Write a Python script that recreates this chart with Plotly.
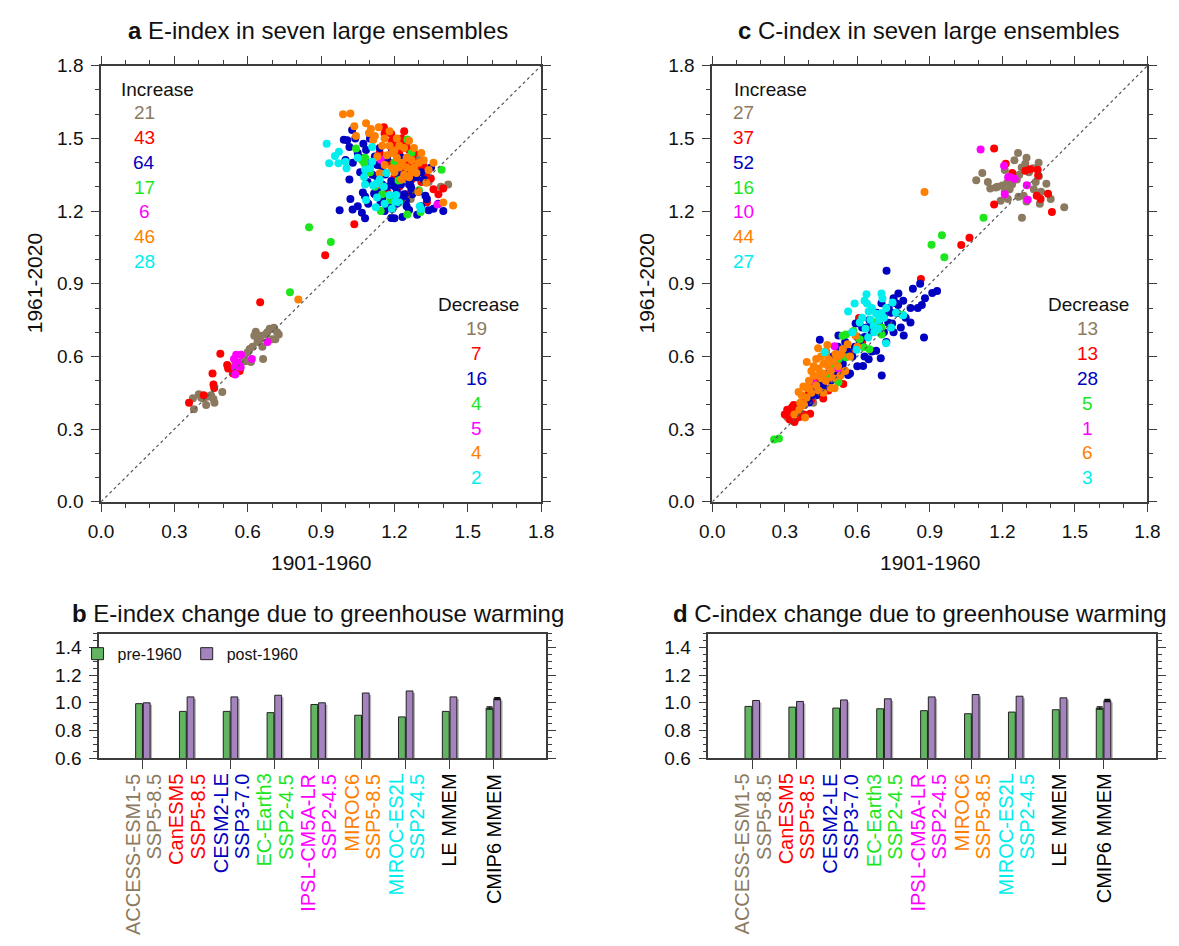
import plotly.graph_objects as go

FONT = "Arial, 'Liberation Sans', Helvetica, sans-serif"
AX = "#3c3c3c"
W, H = 1179, 946

# ---------------- categories ----------------
models = ["ACCESS-ESM1-5", "CanESM5", "CESM2-LE", "EC-Earth3", "IPSL-CM5A-LR", "MIROC6", "MIROC-ES2L"]
scenarios = ["SSP5-8.5", "SSP5-8.5", "SSP3-7.0", "SSP2-4.5", "SSP2-4.5", "SSP5-8.5", "SSP2-4.5"]
model_colors = ["#8C7A60", "#FF0000", "#0000C0", "#1EE61E", "#FF00FF", "#FF8000", "#00EEEE"]
mmem_labels = ["LE MMEM", "CMIP6 MMEM"]

E_increase = [21, 43, 64, 17, 6, 46, 28]
E_decrease = [19, 7, 16, 4, 5, 4, 2]
C_increase = [27, 37, 52, 16, 10, 44, 27]
C_decrease = [13, 13, 28, 5, 1, 6, 3]

# ---------------- panel a: E-index (x: 1901-1960, y: 1961-2020) ----------------
a_access_x = [0.38, 0.376, 0.40, 0.42, 0.43, 0.44, 0.46, 0.464, 0.45, 0.496, 0.41,
              0.55, 0.57, 0.59, 0.613, 0.608, 0.60, 0.58,
              0.627, 0.633, 0.663, 0.653, 0.673, 0.69, 0.707, 0.713, 0.727, 0.70, 0.64, 0.68, 0.66, 0.72, 0.65, 0.62,
              1.296, 1.29, 1.34, 1.39, 1.42, 1.267]
a_access_y = [0.382, 0.428, 0.444, 0.425, 0.40, 0.435, 0.424, 0.409, 0.44, 0.453, 0.43,
              0.57, 0.55, 0.58, 0.577, 0.631, 0.617, 0.60,
              0.686, 0.702, 0.59, 0.686, 0.691, 0.714, 0.718, 0.671, 0.691, 0.671, 0.66, 0.70, 0.64, 0.70, 0.67, 0.64,
              1.43, 1.40, 1.32, 1.30, 1.31, 1.25]

a_canesm_x = [0.36, 0.42, 0.46, 0.463, 0.456, 0.488, 0.516, 0.52, 0.54, 0.567, 0.651, 0.917,
              1.036, 1.157, 1.187, 1.20, 1.227, 1.26, 1.273, 1.313, 1.327, 1.349, 1.40, 1.171, 1.24, 1.333,
              1.24, 1.32, 1.21, 1.23, 1.25, 1.19, 1.22, 1.28, 1.29, 1.30, 1.26, 1.15, 1.18, 1.22, 1.27, 1.31,
              1.36, 1.38, 1.16, 1.24, 1.25, 1.14, 1.33, 1.20]
a_canesm_y = [0.409, 0.44, 0.484, 0.47, 0.53, 0.611, 0.565, 0.55, 0.53, 0.54, 0.824, 1.018,
              1.146, 1.546, 1.519, 1.498, 1.485, 1.452, 1.422, 1.384, 1.351, 1.335, 1.293, 1.279, 1.337, 1.236,
              1.364, 1.384, 1.47, 1.50, 1.48, 1.49, 1.44, 1.44, 1.40, 1.37, 1.40, 1.36, 1.40, 1.30, 1.33, 1.32,
              1.29, 1.27, 1.52, 1.53, 1.27, 1.44, 1.36, 1.34]

a_cesm_x = [1.027, 0.993, 1.007, 1.016, 1.073, 1.084, 1.0, 1.016, 0.976, 1.029,
            1.067, 1.071, 1.12, 1.093, 1.144, 1.127, 1.163, 1.187, 1.20, 1.177,
            1.191, 1.233, 1.187, 1.26, 1.273, 1.327, 1.333, 1.34, 1.293, 1.227,
            1.12, 1.149, 1.267, 1.247, 1.26, 1.30, 1.263, 1.117, 1.13, 1.17,
            1.21, 1.16, 1.05, 1.04, 1.06, 1.10, 1.14, 1.09, 1.11, 1.15,
            1.22, 1.25, 1.28, 1.24, 1.21, 1.20, 1.25, 1.31, 1.36, 1.38,
            1.29, 1.31, 1.35, 1.02, 1.05, 1.08, 1.13, 1.17, 1.19, 1.23,
            1.10, 1.06, 1.15, 1.19, 1.23, 1.27, 1.32, 1.40, 1.03, 1.08]
a_cesm_y = [1.535, 1.494, 1.492, 1.465, 1.478, 1.452, 1.411, 1.33, 1.203, 1.207,
            1.193, 1.277, 1.27, 1.23, 1.236, 1.344, 1.351, 1.324, 1.303, 1.216,
            1.209, 1.176, 1.171, 1.31, 1.27, 1.263, 1.25, 1.203, 1.185, 1.31,
            1.425, 1.384, 1.303, 1.243, 1.205, 1.28, 1.324, 1.273, 1.29, 1.30,
            1.28, 1.20, 1.44, 1.50, 1.42, 1.40, 1.46, 1.32, 1.35, 1.31,
            1.35, 1.36, 1.35, 1.27, 1.23, 1.17, 1.22, 1.22, 1.21, 1.23,
            1.34, 1.36, 1.38, 1.25, 1.22, 1.26, 1.39, 1.42, 1.45, 1.42,
            1.50, 1.36, 1.25, 1.26, 1.25, 1.29, 1.33, 1.20, 1.40, 1.17]

a_ecearth_x = [0.851, 0.773, 0.94, 1.253, 1.043, 1.08, 1.077, 1.393, 1.217, 1.30, 1.144,
               1.253, 1.307, 1.183, 1.067, 1.227, 1.15, 1.10, 1.20, 1.27, 1.12]
a_ecearth_y = [1.133, 0.865, 1.072, 1.496, 1.458, 1.42, 1.398, 1.371, 1.326, 1.286, 1.20,
               1.186, 1.196, 1.246, 1.411, 1.33, 1.27, 1.36, 1.40, 1.44, 1.30]

a_ipsl_x = [0.544, 0.553, 0.573, 0.547, 0.571, 0.549, 0.617, 0.681, 0.56, 1.144, 1.376]
a_ipsl_y = [0.59, 0.607, 0.607, 0.557, 0.557, 0.526, 0.59, 0.66, 0.575, 1.412, 1.227]

a_miroc6_x = [0.99, 1.02, 1.036, 1.084, 1.104, 1.136, 1.043, 1.096, 1.113, 1.13,
              1.19, 1.14, 1.29, 1.33, 1.297, 1.40, 1.44, 0.807, 1.16, 1.18,
              1.20, 1.22, 1.24, 1.26, 1.17, 1.21, 1.23, 1.25, 1.27, 1.19,
              1.15, 1.22, 1.25, 1.28, 1.30, 1.32, 1.34, 1.24, 1.27, 1.20,
              1.12, 1.18, 1.21, 1.28, 1.31, 1.16, 1.23, 1.14, 1.36, 1.26]
a_miroc6_y = [1.60, 1.603, 1.55, 1.563, 1.539, 1.546, 1.51, 1.522, 1.493, 1.425,
              1.377, 1.356, 1.357, 1.317, 1.28, 1.235, 1.223, 0.835, 1.50, 1.47,
              1.45, 1.47, 1.46, 1.49, 1.43, 1.42, 1.40, 1.42, 1.41, 1.44,
              1.47, 1.38, 1.38, 1.38, 1.40, 1.41, 1.37, 1.35, 1.36, 1.36,
              1.51, 1.53, 1.50, 1.46, 1.44, 1.39, 1.33, 1.31, 1.40, 1.34]

a_es2l_x = [0.923, 0.933, 0.957, 0.973, 0.971, 1.0, 1.004, 1.076, 1.08, 1.10,
            1.109, 1.109, 1.08, 1.113, 1.127, 1.157, 1.167, 1.129, 1.084, 1.124,
            1.18, 1.207, 1.204, 1.22, 1.304, 1.309, 1.05, 1.14, 1.16, 1.19]
a_es2l_y = [1.478, 1.397, 1.427, 1.445, 1.397, 1.404, 1.377, 1.341, 1.371, 1.377,
            1.404, 1.465, 1.31, 1.306, 1.314, 1.30, 1.357, 1.256, 1.246, 1.216,
            1.266, 1.266, 1.239, 1.235, 1.22, 1.209, 1.42, 1.33, 1.23, 1.21]

# ---------------- panel c: C-index ----------------
c_access_x = [0.33, 0.418, 0.35, 0.31,
              1.265, 1.295, 1.328, 1.117, 1.092, 1.15, 1.173, 1.20, 1.22, 1.338,
              1.351, 1.382, 1.193, 1.223, 1.267, 1.288, 1.355, 1.456, 1.281, 1.24,
              1.26, 1.18, 1.28, 1.31, 1.33, 1.36, 1.40, 1.30, 1.21, 1.25,
              1.30, 1.14, 1.23, 1.27, 1.35, 1.21]
c_access_y = [0.339, 0.409, 0.37, 0.35,
              1.44, 1.395, 1.377, 1.357, 1.327, 1.293, 1.297, 1.306, 1.317, 1.32,
              1.344, 1.313, 1.243, 1.25, 1.259, 1.263, 1.23, 1.216, 1.173, 1.31,
              1.33, 1.30, 1.38, 1.36, 1.29, 1.28, 1.25, 1.24, 1.37, 1.41,
              1.42, 1.32, 1.29, 1.35, 1.40, 1.28]

c_canesm_x = [1.166, 1.214, 1.241, 1.295, 1.315, 1.346, 1.348, 1.342, 1.358, 1.389, 1.405, 1.166,
              1.064, 1.03, 0.863,
              0.317, 0.337, 0.344, 0.405, 0.459, 0.542, 0.607, 0.499, 0.30, 0.32,
              0.35, 0.36, 0.38, 0.33, 0.37, 0.39, 0.34, 0.40, 0.42, 0.44,
              0.43, 0.47, 0.52, 0.55, 0.50, 0.48, 0.62, 0.58, 0.45, 0.36,
              0.31, 0.41, 0.53, 0.46, 0.38]
c_canesm_y = [1.458, 1.395, 1.357, 1.367, 1.373, 1.371, 1.347, 1.263, 1.25, 1.272, 1.196, 1.227,
              1.09, 1.06, 0.92,
              0.372, 0.40, 0.342, 0.364, 0.427, 0.486, 0.759, 0.577, 0.36, 0.34,
              0.38, 0.35, 0.36, 0.39, 0.41, 0.43, 0.33, 0.45, 0.47, 0.50,
              0.44, 0.52, 0.55, 0.60, 0.53, 0.46, 0.66, 0.62, 0.48, 0.40,
              0.38, 0.42, 0.58, 0.49, 0.42]

c_cesm_x = [0.721, 0.91, 0.867, 0.876, 0.792, 0.769, 0.765, 0.744, 0.728, 0.701,
            0.697, 0.647, 0.624, 0.678, 0.562, 0.546, 0.593, 0.445, 0.522, 0.47,
            0.50, 0.52, 0.55, 0.58, 0.60, 0.62, 0.65, 0.68, 0.70, 0.73,
            0.75, 0.77, 0.79, 0.80, 0.82, 0.85, 0.78, 0.75, 0.72, 0.66,
            0.60, 0.57, 0.52, 0.49, 0.46, 0.43, 0.40, 0.42, 0.45, 0.48,
            0.50, 0.53, 0.56, 0.59, 0.63, 0.66, 0.69, 0.71, 0.74, 0.64,
            0.61, 0.55, 0.51, 0.47, 0.44, 0.38, 0.36, 0.41, 0.54, 0.67,
            0.71, 0.74, 0.82, 0.88, 0.93, 0.63, 0.58, 0.83, 0.86, 0.76]
c_cesm_y = [0.954, 0.862, 0.812, 0.678, 0.687, 0.812, 0.779, 0.736, 0.739, 0.521,
            0.593, 0.588, 0.561, 0.624, 0.523, 0.543, 0.736, 0.669, 0.687, 0.62,
            0.60, 0.64, 0.66, 0.70, 0.68, 0.72, 0.75, 0.78, 0.82, 0.80,
            0.84, 0.86, 0.83, 0.76, 0.74, 0.80, 0.72, 0.70, 0.66, 0.62,
            0.56, 0.53, 0.50, 0.50, 0.47, 0.44, 0.41, 0.46, 0.50, 0.53,
            0.56, 0.58, 0.62, 0.64, 0.68, 0.70, 0.74, 0.77, 0.78, 0.72,
            0.66, 0.61, 0.54, 0.51, 0.48, 0.40, 0.38, 0.44, 0.57, 0.73,
            0.70, 0.72, 0.80, 0.84, 0.87, 0.60, 0.60, 0.88, 0.90, 0.82]

c_ecearth_x = [0.256, 0.276, 0.786, 0.674, 0.584, 0.553, 0.539, 0.61, 0.701, 0.627,
               0.523, 0.553, 0.522, 1.122, 0.907, 0.95, 0.96, 0.50, 0.48, 0.65, 0.70]
c_ecearth_y = [0.257, 0.261, 0.772, 0.741, 0.705, 0.691, 0.685, 0.671, 0.691, 0.638,
               0.59, 0.597, 0.494, 1.173, 1.061, 1.10, 1.01, 0.55, 0.52, 0.63, 0.72]

c_ipsl_x = [1.11, 1.207, 1.224, 1.251, 1.301, 1.21, 1.305, 1.23, 0.506, 0.519, 0.418]
c_ipsl_y = [1.454, 1.387, 1.34, 1.333, 1.307, 1.27, 1.247, 1.341, 0.642, 0.55, 0.49]

c_miroc6_x = [0.878, 0.391, 0.438, 0.476, 0.533, 0.593, 0.357, 0.377, 0.384, 0.364,
              0.506, 0.40, 0.42, 0.44, 0.46, 0.48, 0.50, 0.42, 0.45, 0.47,
              0.43, 0.45, 0.49, 0.52, 0.41, 0.39, 0.36, 0.38, 0.40, 0.44,
              0.47, 0.53, 0.55, 0.49, 0.46, 0.51, 0.54, 0.56, 0.41, 0.43,
              0.37, 0.39, 0.48, 0.50, 0.57, 0.60, 0.34, 0.52, 0.46, 0.44]
c_miroc6_y = [1.279, 0.577, 0.634, 0.647, 0.608, 0.685, 0.453, 0.476, 0.348, 0.409,
              0.469, 0.50, 0.52, 0.55, 0.53, 0.56, 0.58, 0.56, 0.60, 0.62,
              0.48, 0.51, 0.54, 0.56, 0.45, 0.43, 0.38, 0.40, 0.47, 0.46,
              0.50, 0.52, 0.54, 0.47, 0.45, 0.61, 0.63, 0.65, 0.54, 0.59,
              0.44, 0.47, 0.59, 0.51, 0.60, 0.64, 0.36, 0.60, 0.57, 0.52]

c_es2l_x = [0.562, 0.589, 0.638, 0.64, 0.647, 0.678, 0.704, 0.746, 0.654, 0.634,
            0.668, 0.688, 0.645, 0.719, 0.465, 0.597, 0.701, 0.62, 0.66, 0.69,
            0.72, 0.61, 0.70, 0.76, 0.79, 0.74, 0.58, 0.63, 0.67, 0.71]
c_es2l_y = [0.786, 0.819, 0.857, 0.819, 0.786, 0.776, 0.839, 0.823, 0.752, 0.714,
            0.725, 0.714, 0.678, 0.655, 0.617, 0.628, 0.779, 0.76, 0.80, 0.75,
            0.80, 0.74, 0.86, 0.78, 0.77, 0.72, 0.70, 0.83, 0.70, 0.76]

# ---------------- panels b, d: bars ----------------
E_pre = [0.994, 0.938, 0.938, 0.929, 0.988, 0.910, 0.898, 0.938, 0.962]
E_post = [1.000, 1.043, 1.043, 1.055, 1.000, 1.071, 1.086, 1.043, 1.031]
C_pre = [0.974, 0.969, 0.962, 0.957, 0.943, 0.921, 0.933, 0.950, 0.962]
C_post = [1.017, 1.010, 1.021, 1.029, 1.043, 1.060, 1.048, 1.036, 1.017]
E_pre_err_cmip6 = 0.008
E_post_err_cmip6 = 0.007
C_pre_err_cmip6 = 0.008
C_post_err_cmip6 = 0.008

GREEN_BAR = "#62B462"
PURPLE_BAR = "#A583BF"
SHADOW = "#B4B4B4"

# ---------------- figure ----------------
def px_x(p):
    return p / W

def px_y(p):
    return 1 - p / H

dom_a_x = [px_x(90), px_x(540)]
dom_c_x = [px_x(715), px_x(1160)]
dom_sc_y = [px_y(503), px_y(57)]
dom_b_x = [px_x(88), px_x(545)]
dom_d_x = [px_x(711), px_x(1169)]
dom_bar_y = [px_y(765), px_y(638)]

fig = go.Figure()

a_xs = [a_access_x, a_canesm_x, a_cesm_x, a_ecearth_x, a_ipsl_x, a_miroc6_x, a_es2l_x]
a_ys = [a_access_y, a_canesm_y, a_cesm_y, a_ecearth_y, a_ipsl_y, a_miroc6_y, a_es2l_y]
c_xs = [c_access_x, c_canesm_x, c_cesm_x, c_ecearth_x, c_ipsl_x, c_miroc6_x, c_es2l_x]
c_ys = [c_access_y, c_canesm_y, c_cesm_y, c_ecearth_y, c_ipsl_y, c_miroc6_y, c_es2l_y]

for xs, ys, xa, ya in [(a_xs, a_ys, "x", "y"), (c_xs, c_ys, "x2", "y2")]:
    for i in range(7):
        fig.add_trace(go.Scatter(x=xs[i], y=ys[i], mode="markers", xaxis=xa, yaxis=ya,
                                 marker=dict(color=model_colors[i], size=8, line=dict(width=0)),
                                 showlegend=False, name=models[i]))
    fig.add_trace(go.Scatter(x=[0, 1.8], y=[0, 1.8], mode="lines", xaxis=xa, yaxis=ya,
                             line=dict(color="#555555", width=1.2, dash="dot"), showlegend=False))

bar_pos = list(range(1, 10))
BW = 0.155
SH_DX = 0.045   # shadow offset (style)
SH_DY = 0.014
for pre, post, pre_err, post_err, xa, ya, leg in [
        (E_pre, E_post, E_pre_err_cmip6, E_post_err_cmip6, "x3", "y3", True),
        (C_pre, C_post, C_pre_err_cmip6, C_post_err_cmip6, "x4", "y4", False)]:
    for vals, off in [(pre, -BW - 0.01), (post, 0.01)]:
        fig.add_trace(go.Bar(x=bar_pos, y=[v - SH_DY for v in vals], width=BW, offset=off + SH_DX,
                             xaxis=xa, yaxis=ya, marker=dict(color=SHADOW, line=dict(width=0)),
                             showlegend=False, hoverinfo="skip"))
    fig.add_trace(go.Bar(x=bar_pos, y=pre, width=BW, offset=-BW - 0.01, xaxis=xa, yaxis=ya,
                         marker=dict(color=GREEN_BAR, line=dict(color="#222222", width=1)),
                         name="pre-1960", showlegend=leg))
    fig.add_trace(go.Bar(x=bar_pos, y=post, width=BW, offset=0.01, xaxis=xa, yaxis=ya,
                         marker=dict(color=PURPLE_BAR, line=dict(color="#222222", width=1)),
                         name="post-1960", showlegend=leg))
    fig.add_trace(go.Scatter(x=[bar_pos[-1] - BW / 2 - 0.01, bar_pos[-1] + BW / 2 + 0.01],
                             y=[pre[-1], post[-1]], mode="markers", xaxis=xa, yaxis=ya,
                             marker=dict(size=1, color="rgba(0,0,0,0)"),
                             error_y=dict(type="data", array=[pre_err, post_err], color="#111111",
                                          thickness=1.3, width=3),
                             showlegend=False, hoverinfo="skip"))

tickfont = dict(family=FONT, size=19, color="#111111")


def sc_axis(domain, anchor):
    return dict(domain=domain, anchor=anchor, range=[0, 1.8], tick0=0, dtick=0.3, tickformat=".1f",
                ticks="outside", ticklen=8, tickwidth=1.3, tickcolor=AX, showline=True, linecolor=AX,
                linewidth=1.5, mirror="ticks", showgrid=False, zeroline=False, tickfont=tickfont,
                ticklabelstandoff=4,
                minor=dict(tick0=0, dtick=0.1, ticks="outside", ticklen=4, tickwidth=1.2, tickcolor=AX,
                           showgrid=False))


def bar_xaxis(domain, anchor):
    return dict(domain=domain, anchor=anchor, range=[0, 10.2], tickmode="array", tickvals=bar_pos,
                showticklabels=False, ticks="outside", ticklen=9, tickwidth=1.3,
                tickcolor=AX, showline=True, linecolor=AX, linewidth=1.5, mirror=True, showgrid=False,
                zeroline=False)


def bar_yaxis(domain, anchor):
    return dict(domain=domain, anchor=anchor, range=[0.6, 1.5], tick0=0.6, dtick=0.2, tickformat=".1f",
                ticks="outside", ticklen=8, tickwidth=1.3, tickcolor=AX, showline=True, linecolor=AX,
                linewidth=1.5, mirror="ticks", showgrid=False, zeroline=False, tickfont=tickfont,
                ticklabelstandoff=4,
                minor=dict(tick0=0.6, dtick=0.05, ticks="outside", ticklen=4, tickwidth=1.2, tickcolor=AX,
                           showgrid=False))


annotations = []


def add_text(text, x, y, xref="paper", yref="paper", size=20, color="#111111", xanchor="center",
             yanchor="middle", angle=0, xshift=0):
    annotations.append(dict(text=text, x=x, y=y, xref=xref, yref=yref, showarrow=False,
                            font=dict(family=FONT, size=size, color=color), xanchor=xanchor,
                            yanchor=yanchor, textangle=angle, xshift=xshift))


# titles
add_text("<b>a</b> E-index in seven large ensembles", px_x(312), px_y(21), size=24)
add_text("<b>c</b> C-index in seven large ensembles", px_x(937), px_y(21), size=24)
add_text("<b>b</b> E-index change due to greenhouse warming", px_x(312), px_y(617), size=24)
add_text("<b>d</b> C-index change due to greenhouse warming", px_x(927), px_y(617), size=24)

# axis titles
for cx in (315, 938):
    add_text("1901-1960", px_x(cx), px_y(565), size=21)
for cx in (22, 648):
    add_text("1961-2020", px_x(cx), px_y(280), size=21, angle=-90)

# increase / decrease counts
STEP = 0.1024
for xa, ya, inc, dec, inc_lab_x, inc_num_x, dec_lab_x, dec_num_x in [
        ("x", "y", E_increase, E_decrease, 0.072, 0.176, 1.542, 1.536),
        ("x2", "y2", C_increase, C_decrease, 0.081, 0.13, 1.557, 1.553)]:
    add_text("Increase", inc_lab_x, 1.70, xref=xa, yref=ya, xanchor="left", size=19)
    for i in range(7):
        add_text(str(inc[i]), inc_num_x, 1.606 - i * STEP, xref=xa, yref=ya, size=19,
                 color=model_colors[i])
    add_text("Decrease", dec_lab_x, 0.815, xref=xa, yref=ya, size=19)
    for i in range(7):
        add_text(str(dec[i]), dec_num_x, 0.714 - i * STEP, xref=xa, yref=ya, size=19,
                 color=model_colors[i])

# bar category labels (rotated, two coloured lines per model)
for xa in ("x3", "x4"):
    for i in range(7):
        add_text(models[i], bar_pos[i], px_y(779), xref=xa, yref="paper", size=20,
                 color=model_colors[i], yanchor="top", angle=-90, xshift=-10)
        add_text(scenarios[i], bar_pos[i], px_y(779), xref=xa, yref="paper", size=20,
                 color=model_colors[i], yanchor="top", angle=-90, xshift=11)
    for j, lab in enumerate(mmem_labels):
        add_text(lab, bar_pos[7 + j], px_y(779), xref=xa, yref="paper", size=20,
                 color="#000000", yanchor="top", angle=-90)

fig.update_layout(
    width=W, height=H, margin=dict(l=0, r=0, t=0, b=0),
    paper_bgcolor="white", plot_bgcolor="white",
    font=dict(family=FONT, size=16, color="#111111"),
    barmode="overlay",
    xaxis=sc_axis(dom_a_x, "y"), yaxis=sc_axis(dom_sc_y, "x"),
    xaxis2=sc_axis(dom_c_x, "y2"), yaxis2=sc_axis(dom_sc_y, "x2"),
    xaxis3=bar_xaxis(dom_b_x, "y3"), yaxis3=bar_yaxis(dom_bar_y, "x3"),
    xaxis4=bar_xaxis(dom_d_x, "y4"), yaxis4=bar_yaxis(dom_bar_y, "x4"),
    legend=dict(x=px_x(66), y=px_y(641), xanchor="left", yanchor="top", orientation="h",
                font=dict(family=FONT, size=16, color="#111111"), bgcolor="rgba(0,0,0,0)",
                itemwidth=30, tracegroupgap=0),
    annotations=annotations,
    showlegend=True,
)

fig.write_html("out.html")
